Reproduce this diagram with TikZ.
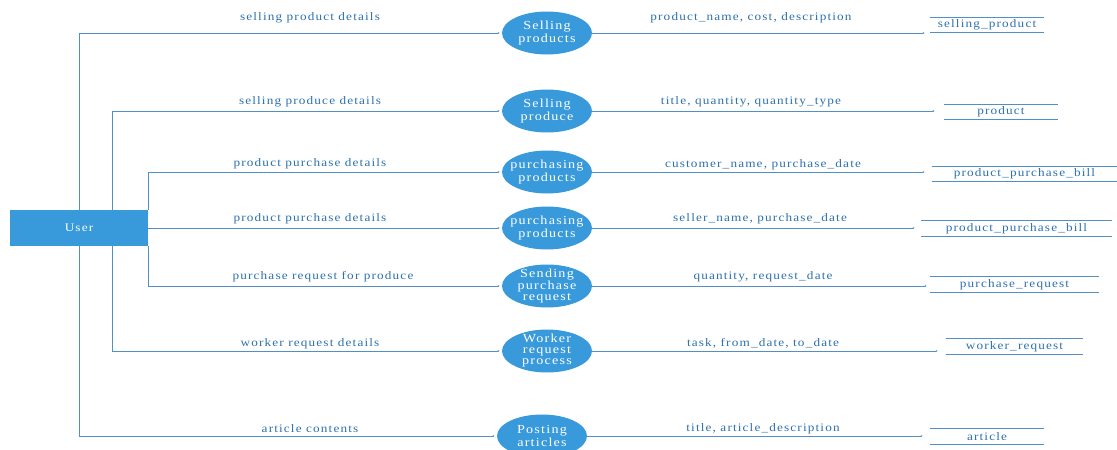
\documentclass[tikz,border=0pt]{standalone}
\usepackage{fontspec}
\setmainfont{Liberation Serif}[LetterSpace=10, FakeStretch=1.15]
\usetikzlibrary{shapes.geometric,arrows.meta}
\definecolor{procblue}{HTML}{3899DB}
\definecolor{linkblue}{HTML}{5290C4}
\definecolor{labelblue}{HTML}{2C70AC}
\tikzset{
  txt/.style={font=\fontsize{11.5}{11}\selectfont},
  entity/.style={draw=none, fill=procblue, text=white, txt, minimum width=138pt, minimum height=36pt, inner sep=0pt},
  process/.style={ellipse, fill=procblue, text=white, font=\fontsize{12.3}{11}\selectfont, align=center, minimum width=90pt, minimum height=43pt, inner sep=-16pt},
  store/.style={txt, text=labelblue, minimum height=15pt, inner sep=0pt},
  storeline/.style={draw=linkblue, line width=0.9pt},
  flow/.style={draw=linkblue, line width=0.8pt, -{Latex[length=2pt,width=2pt]}, shorten >=2pt},
  flowlabel/.style={txt, text=labelblue, inner sep=0pt}
}
\begin{document}
\begin{tikzpicture}[x=1pt,y=-1pt]
\useasboundingbox (0,0) rectangle (1117,450);

% external entity
\node[entity] (user) at (79,228) {User};
\coordinate (mid) at (112,228);

% processes
\node[process] (p1) at (547,33) {Selling\\products};
\node[process] (p2) at (547,111) {Selling\\produce};
\node[process] (p3) at (547,172) {purchasing\\products};
\node[process] (p4) at (547,228) {purchasing\\products};
\node[process] (p5) at (547,286) {Sending\\purchase\\request};
\node[process] (p6) at (547,351) {Worker\\request\\process};
\node[process] (p7) at (542,436) {Posting\\articles};

% data stores
\node[store, minimum width=114pt] (d1) at (987,25)  {selling\_product};
\node[store, minimum width=114pt] (d2) at (1001,112) {product};
\node[store, minimum width=185pt] (d3) at (1024.5,174) {product\_purchase\_bill};
\node[store, minimum width=191pt] (d4) at (1016.5,228.5) {product\_purchase\_bill};
\node[store, minimum width=169pt] (d5) at (1014.5,284.5) {purchase\_request};
\node[store, minimum width=137pt] (d6) at (1014.5,346.5) {worker\_request};
\node[store, minimum width=114pt] (d7) at (987,436.5) {article};
\foreach \d in {d1,d2,d3,d4,d5,d6,d7}{
  \draw[storeline] (\d.north west) -- (\d.north east);
  \draw[storeline] (\d.south west) -- (\d.south east);
}

% flows from the user to the processes
\draw[flow] (user.north) |- (p1.west);
\draw[flow] (user.north -| mid) |- (p2.west);
\draw[flow] (user.north east) |- (p3.west);
\draw[flow] (user.east) -- (p4.west);
\draw[flow] (user.south east) |- (p5.west);
\draw[flow] (user.south -| mid) |- (p6.west);
\draw[flow] (user.south) |- (p7.west);

% flows from the processes to the data stores
\draw[flow, shorten >=5pt] (p1.east) -- (p1.east -| d1.west);
\draw[flow, shorten >=9pt] (p2.east) -- (p2.east -| d2.west);
\draw[flow, shorten >=7pt] (p3.east) -- (p3.east -| d3.west);
\draw[flow, shorten >=6pt] (p4.east) -- (p4.east -| d4.west);
\draw[flow, shorten >=3pt] (p5.east) -- (p5.east -| d5.west);
\draw[flow, shorten >=8pt] (p6.east) -- (p6.east -| d6.west);
\draw[flow, shorten >=7pt] (p7.east) -- (p7.east -| d7.west);

% flow labels
\node[flowlabel] (l1) at (310,18)  {selling product details};
\node[flowlabel] (l2) at (310,102) {selling produce details};
\node[flowlabel] (l3) at (310,164) {product purchase details};
\node[flowlabel] (l4) at (310,219) {product purchase details};
\node[flowlabel] (l5) at (323,277) {purchase request for produce};
\node[flowlabel] (l6) at (310,344) {worker request details};
\node[flowlabel] (l7) at (310,429) {article contents};

\node[flowlabel] (r1) at (751,18)  {product\_name, cost, description};
\node[flowlabel] (r2) at (751,102) {title, quantity, quantity\_type};
\node[flowlabel] (r3) at (763,165) {customer\_name, purchase\_date};
\node[flowlabel] (r4) at (760,219) {seller\_name, purchase\_date};
\node[flowlabel] (r5) at (763,277) {quantity, request\_date};
\node[flowlabel] (r6) at (763,343) {task, from\_date, to\_date};
\node[flowlabel] (r7) at (763,429) {title, article\_description};
\end{tikzpicture}
\end{document}
